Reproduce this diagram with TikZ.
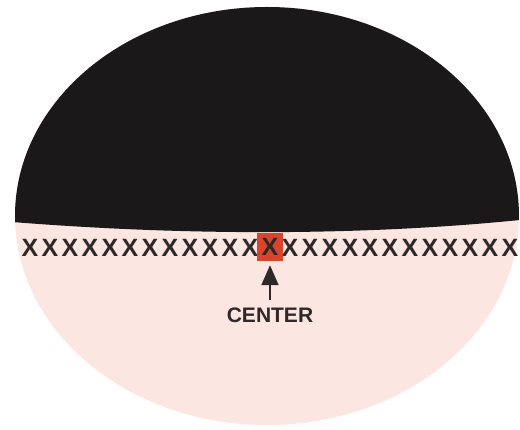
\documentclass[tikz,border=0pt]{standalone}
\usepackage{fontspec}
\setmainfont{Liberation Sans}
\usetikzlibrary{arrows.meta}
\definecolor{pinkbg}{HTML}{FBE6E1}
\definecolor{blk}{HTML}{1A1818}
\definecolor{redbox}{HTML}{D8452C}
\definecolor{xgrey}{HTML}{2E2828}
\begin{document}
\begin{tikzpicture}[x=1pt,y=-1pt,
  xmark/.style={font=\bfseries\fontsize{25}{25}\selectfont, text=xgrey, inner sep=0pt},
  centerbox/.style={xmark, fill=redbox, minimum width=26pt, minimum height=28pt},
  lbl/.style={font=\bfseries\fontsize{21}{21}\selectfont, text=xgrey, inner sep=0pt},
  pointer/.style={draw=xgrey, line width=2pt, -{Triangle[length=20pt,width=17pt]}}]
\useasboundingbox (0,0) rectangle (520,430);
\fill[pinkbg] (267,216) ellipse [x radius=252, y radius=209];
\begin{scope}
  \clip (267,216) ellipse [x radius=252, y radius=209];
  \fill[blk] (0,0) -- (0,221) .. controls (180,236) and (360,236) .. (520,220) -- (520,0) -- cycle;
\end{scope}
\foreach \i in {0,...,11,13,14,...,24}
  \node[xmark] (x\i) at ({30+20*\i},248) {X};
\node[centerbox] (rb) at (270,247) {X};
\node[lbl] (lab) at (270,315) {CENTER};
\draw[pointer, shorten <=7pt, shorten >=4pt] (lab.north) -- (rb.south);
\end{tikzpicture}
\end{document}
